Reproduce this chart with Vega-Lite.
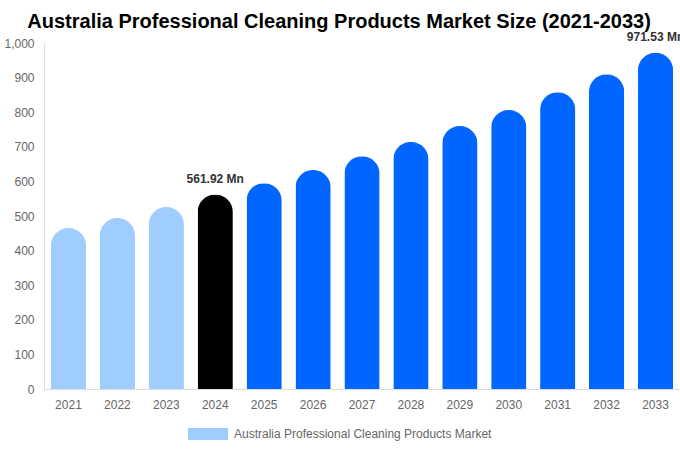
{
  "$schema": "https://vega.github.io/schema/vega-lite/v6.json",
  "width": 636,
  "height": 346,
  "autosize": {"type": "none"},
  "padding": {"left": 44, "top": 43, "right": 0, "bottom": 61},
  "title": {
    "text": "Australia Professional Cleaning Products Market Size (2021-2033)",
    "font": "Liberation Sans",
    "fontSize": 20,
    "fontWeight": "bold",
    "color": "#000000",
    "anchor": "middle",
    "frame": "bounds",
    "offset": -1,
    "dx": -5
  },
  "config": {
    "view": {"stroke": null},
    "font": "Liberation Sans"
  },
  "data": {
    "values": [
      {"year": "2021", "value": 465, "phase": "Australia Professional Cleaning Products Market", "label": ""},
      {"year": "2022", "value": 494, "phase": "Australia Professional Cleaning Products Market", "label": ""},
      {"year": "2023", "value": 526, "phase": "Australia Professional Cleaning Products Market", "label": ""},
      {"year": "2024", "value": 561.92, "phase": "Base year", "label": "561.92 Mn"},
      {"year": "2025", "value": 595, "phase": "Forecast", "label": ""},
      {"year": "2026", "value": 633, "phase": "Forecast", "label": ""},
      {"year": "2027", "value": 673, "phase": "Forecast", "label": ""},
      {"year": "2028", "value": 714, "phase": "Forecast", "label": ""},
      {"year": "2029", "value": 760, "phase": "Forecast", "label": ""},
      {"year": "2030", "value": 806, "phase": "Forecast", "label": ""},
      {"year": "2031", "value": 858, "phase": "Forecast", "label": ""},
      {"year": "2032", "value": 910, "phase": "Forecast", "label": ""},
      {"year": "2033", "value": 971.53, "phase": "Forecast", "label": "971.53 Mn"}
    ]
  },
  "encoding": {
    "x": {
      "field": "year",
      "type": "ordinal",
      "scale": {"paddingInner": 0.28, "paddingOuter": 0.14},
      "axis": {
        "title": null,
        "labelAngle": 0,
        "labelColor": "#666666",
        "labelFontSize": 12,
        "labelPadding": 10,
        "ticks": false,
        "domainColor": "#dddddd"
      }
    },
    "y": {
      "field": "value",
      "type": "quantitative",
      "scale": {"domain": [0, 1000], "nice": false},
      "axis": {
        "title": null,
        "format": ",.0f",
        "values": [0, 100, 200, 300, 400, 500, 600, 700, 800, 900, 1000],
        "grid": false,
        "ticks": false,
        "labelColor": "#666666",
        "labelFontSize": 12,
        "labelPadding": 10,
        "domain": true,
        "domainColor": "#dddddd"
      }
    }
  },
  "layer": [
    {
      "mark": {"type": "bar", "cornerRadiusTopLeft": 17.5, "cornerRadiusTopRight": 17.5},
      "encoding": {
        "color": {
          "field": "phase",
          "type": "nominal",
          "scale": {
            "domain": ["Australia Professional Cleaning Products Market", "Base year", "Forecast"],
            "range": ["#9fcdfe", "#000000", "#0066ff"]
          },
          "legend": {
            "title": null,
            "values": ["Australia Professional Cleaning Products Market"],
            "orient": "none",
            "legendX": 144,
            "legendY": 371,
            "symbolType": "M-1,-0.3L1,-0.3L1,0.3L-1,0.3Z",
            "symbolSize": 1600,
            "symbolStrokeWidth": 0,
            "labelColor": "#666666",
            "labelFontSize": 12,
            "labelOffset": 6,
            "labelLimit": 0
          }
        }
      }
    },
    {
      "mark": {
        "type": "text",
        "baseline": "bottom",
        "dy": -9,
        "fontSize": 12,
        "fontWeight": "bold",
        "color": "#333333"
      },
      "encoding": {
        "text": {"field": "label"}
      }
    }
  ]
}
